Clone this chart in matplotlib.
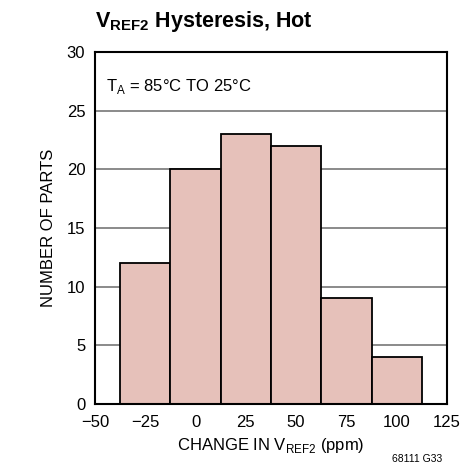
import matplotlib
matplotlib.use("Agg")
import matplotlib.pyplot as plt

# histogram of V_REF2 change
bin_centers = [-25, 0, 25, 50, 75, 100]
counts = [12, 20, 23, 22, 9, 4]
x_ticks = [-50, -25, 0, 25, 50, 75, 100, 125]
x_labels = ["\u221250", "\u221225", "0", "25", "50", "75", "100", "125"]
y_ticks = [0, 5, 10, 15, 20, 25, 30]

plt.rcParams['font.family'] = ['Liberation Sans', 'DejaVu Sans']
plt.rcParams['mathtext.fontset'] = 'custom'
plt.rcParams['mathtext.rm'] = 'Liberation Sans'
plt.rcParams['mathtext.bf'] = 'Liberation Sans:bold'

fig = plt.figure(figsize=(4.71, 4.73), dpi=100)
ax = fig.add_axes([0.2017, 0.146, 0.7473, 0.744])

for y in y_ticks[1:-1]:
    ax.axhline(y, color='#777777', lw=1.2, zorder=0)

ax.bar(bin_centers, counts, width=25, color='#e6c1ba', edgecolor='black', lw=1.3, zorder=2)

ax.set_xlim(-50, 125)
ax.set_ylim(0, 30)
ax.set_xticks(x_ticks)
ax.set_xticklabels(x_labels)
ax.set_yticks(y_ticks)
ax.tick_params(length=0, labelsize=12)
ax.tick_params(axis='x', pad=8)
ax.tick_params(axis='y', pad=7)
for s in ax.spines.values():
    s.set_linewidth(1.5)

ax.set_xlabel("CHANGE IN V$_{\\mathregular{REF2}}$ (ppm)", fontsize=12, labelpad=4)
ax.set_ylabel("NUMBER OF PARTS", fontsize=12, labelpad=8)
ax.text(0.03, 0.93, "T$_{\\mathregular{A}}$ = 85\u00b0C TO 25\u00b0C", transform=ax.transAxes,
        fontsize=12, va='top', ha='left')

fig.text(0.2017, 0.98, "V$_{\\mathbf{REF2}}$ Hysteresis, Hot", fontsize=15.5,
         fontweight='bold', va='top', ha='left')
fig.text(0.885, 0.02, "68111 G33", fontsize=7.5, ha='center', va='bottom')

fig.savefig("out.png", dpi=100)
